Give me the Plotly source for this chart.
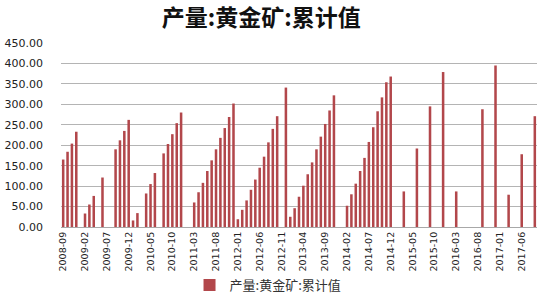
import pandas as pd
import plotly.graph_objects as go

# Categories: monthly, 2008-09 .. 2017-09
months = list(pd.period_range("2008-09", "2017-09", freq="M").strftime("%Y-%m"))

N = None
values_2008 = [165, 184, 204, 233]  # Sep-Dec
values_2009 = [N, 33, 55, 76, N, 121, N, N, 190, 212, 235, 262]
values_2010 = [16, 34, N, 82, 105, 132, N, 180, 203, 227, 254, 280]
values_2011 = [N, N, 60, 85, 108, 137, 163, 190, 218, 242, 269, 302]
values_2012 = [19, 42, 65, 91, 116, 145, 172, 207, 240, 271, N, 341]
values_2013 = [25, 46, 74, 101, 129, 158, 190, 221, 252, 285, 322, N]
values_2014 = [N, 52, 80, 106, 137, 169, 208, 244, 283, 317, 354, 368]
values_2015 = [N, N, 87, N, N, 192, N, N, 295, N, N, 379]
values_2016 = [N, N, 87, N, N, N, N, N, 288, N, N, 395]
values_2017 = [N, N, 79, N, N, 178, N, N, 271]  # Jan-Sep

values = (values_2008 + values_2009 + values_2010 + values_2011 + values_2012
          + values_2013 + values_2014 + values_2015 + values_2016 + values_2017)

tick_labels = months[::5]
series_name = "产量:黄金矿:累计值"
title_text = "产量:黄金矿:累计值"

fig = go.Figure()
fig.add_trace(go.Bar(
    x=months, y=values, name=series_name,
    marker=dict(color="#B2474B", line=dict(width=0)),
    showlegend=True,
))

fig.update_layout(
    width=550, height=300,
    margin=dict(l=61, r=13, t=43, b=73, autoexpand=False),
    paper_bgcolor="white", plot_bgcolor="white",
    bargap=0.42,
    title=dict(text=title_text, x=0.475, xanchor="center", y=0.94, yanchor="middle",
               font=dict(family="Noto Sans CJK SC", size=23, color="#111111", weight="bold")),
    xaxis=dict(type="category", categoryorder="array", categoryarray=months,
               tickmode="array", tickvals=tick_labels, ticktext=tick_labels,
               tickangle=-90, tickfont=dict(family="DejaVu Sans", size=9.5, color="#222222"),
               showgrid=False, showline=True, linecolor="#a8a8a8", linewidth=1,
               ticks="", ticklen=0, automargin=False),
    yaxis=dict(range=[0, 450], dtick=50, tickformat=".2f",
               tickfont=dict(family="DejaVu Sans", size=11, color="#222222"),
               showgrid=True, gridcolor="#b4b4b4", gridwidth=1,
               zeroline=True, zerolinecolor="#a8a8a8", zerolinewidth=1,
               ticks="", ticklabelstandoff=17, automargin=False),
    legend=dict(orientation="h", x=0.27, xanchor="left", y=-0.315, yanchor="middle",
                font=dict(family="Noto Sans CJK SC", size=13, color="#333333"),
                itemwidth=30, bgcolor="rgba(0,0,0,0)"),
)

fig.write_html("out.html")
